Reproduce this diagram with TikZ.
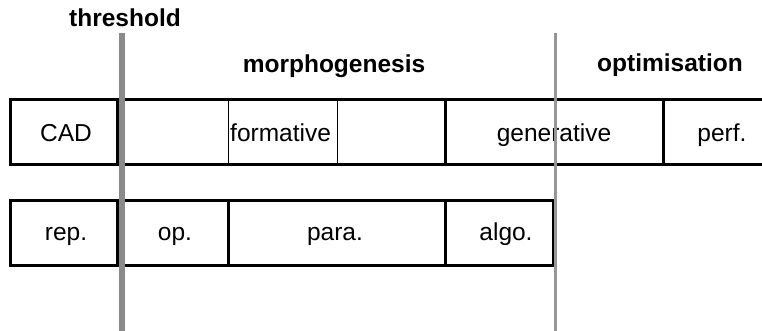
\documentclass[tikz,border=0pt]{standalone}
\usepackage{fontspec}
\setmainfont{Liberation Sans}
\definecolor{gthick}{RGB}{138,138,138}
\definecolor{gthin}{RGB}{150,150,150}
\begin{document}
\begin{tikzpicture}[x=1pt,y=-1pt,
  lbl/.style={font=\fontsize{24.5}{29}\selectfont, inner sep=0pt, anchor=base},
  hdr/.style={font=\fontsize{24.5}{29}\selectfont\bfseries, inner sep=0pt, anchor=base},
  frame/.style={line width=3pt, line join=miter},
  thinrule/.style={line width=1pt},
  thickrule/.style={line width=3pt},
  wallrule/.style={line width=4pt},
  grayA/.style={line width=6pt, draw=gthick},
  grayB/.style={line width=3pt, draw=gthin}]
\useasboundingbox (0,0) rectangle (762,331);
% top row
\draw[frame] (763,100) -- (10,100) -- (10,165) -- (763,165);
\draw[wallrule] (118,100) -- (118,165);
\draw[thinrule] (228,100) -- (228,165);
\draw[thinrule] (337,100) -- (337,165);
\draw[thickrule] (445,100) -- (445,165);
\draw[thickrule] (663,100) -- (663,165);
% bottom row
\draw[frame] (10,200) rectangle (553,265);
\draw[wallrule] (118,200) -- (118,265);
\draw[thickrule] (228,200) -- (228,265);
\draw[thickrule] (445,200) -- (445,265);
% texts
\node[hdr] (thr) at (125,26.5) {threshold};
\node[hdr] (morph) at (334,73) {morphogenesis};
\node[hdr] (opt) at (670,72) {optimisation};
\node[lbl] (cad) at (66,142) {CAD};
\node[lbl, anchor=base west] (form) at (230,142) {formative};
\node[lbl] (gen) at (554,142) {generative};
\node[lbl] (perf) at (722,142) {perf.};
\node[lbl] (rep) at (66,240) {rep.};
\node[lbl] (op) at (175,240) {op.};
\node[lbl] (para) at (335,240) {para.};
\node[lbl] (algo) at (506,240) {algo.};
% gray vertical lines
\coordinate (tA) at (122,33);
\coordinate (bA) at (122,331);
\coordinate (tB) at (555,33);
\coordinate (bB) at (555,331);
\draw[grayA] (tA) -- (bA);
\draw[grayB] (tB) -- (bB);
\end{tikzpicture}
\end{document}
